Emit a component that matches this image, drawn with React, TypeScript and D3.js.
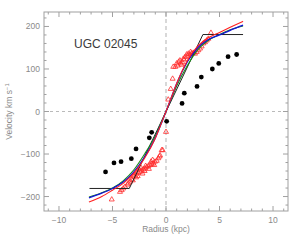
import React from "react";
import * as d3 from "d3";

const dotR = [-5.65, -4.86, -4.2, -3.24, -2.8, -1.56, -1.34, 0.06, 1.5, 1.71, 2.9, 3.3, 4.33, 4.93, 5.8, 6.6];
const dotV = [-142, -121, -118, -111, -88, -62, -49, -23, 19, 43, 59, 81, 100, 113, 129, 134];

const triR = [0.21, 0.44, 0.62, 0.68, 0.87, 1.0, 1.1, 1.19, 1.3, 1.37, 1.45, 1.52, 1.62, 1.68, 1.78, 1.93, 2.0, 2.09, 2.24, 2.3, 2.4, 2.55, 2.71, 2.87, 3.02, 3.18, 3.33, 3.49, 3.64, 3.8, 3.95, 4.2,
  0.0, -0.31, -0.4, -0.56, -0.6, -0.72, -0.87, -1.03, -1.19, -1.34, -1.4, -1.5, -1.65, -1.8, -1.9, -1.96, -2.0, -2.12, -2.27, -2.43, -2.5, -2.59, -2.74, -2.8, -2.9, -3.05, -3.2, -3.36, -3.52, -3.83, -3.99, -4.14, -4.3, -5.07,
  -1.1, -1.6, -2.2, -2.65, -3.1, -3.6, -1.25, -2.35];
const triV = [28, 53, 77, 105, 105, 113, 108, 117, 120, 113, 110, 116, 124, 122, 128, 134, 130, 136, 134, 140, 136, 138, 136, 140, 144, 148, 153, 160, 163, 167, 171, 185,
  -48, -91, -91, -103, -106, -110, -116, -118, -122, -124, -118, -126, -128, -131, -128, -134, -140, -136, -139, -142, -136, -144, -146, -155, -150, -153, -160, -165, -169, -177, -181, -185, -189, -207,
  -126, -135, -146, -152, -162, -172, -114, -132];

const curveR = [-7.2, -6, -5, -4, -3, -2, -1, -0.5, 0, 0.5, 1, 2, 3, 4, 5, 6, 7.2];
const blueV = [-203, -192, -181, -166, -142, -107, -62, -32, 0, 33, 66, 117, 151, 170, 180, 191, 203];
const redV = [-213, -200, -185, -169, -145, -110, -63, -32, 0, 33, 66, 120, 155, 174, 186, 198, 212];
const greenV = [-201, -191, -180, -163, -137, -100, -57, -29, 0, 30, 60, 108, 146, 168, 181, 192, 201];

const modelR = [-7.15, -3.43, 3.45, 7.2];
const modelV = [-181, -181, 181, 181];

const xMajor = [-10, -5, 0, 5, 10];
const yMajor = [-200, -100, 0, 100, 200];

export default function App() {
  const W = 300, H = 240;
  const L = 44, R = 288, T = 12, B = 211;
  const x = d3.scaleLinear().domain([-11.4, 11.4]).range([L, R]);
  const y = d3.scaleLinear().domain([-234, 234]).range([B, T]);
  const xMinor = d3.range(-11, 12, 1);
  const yMinor = d3.range(-220, 221, 20);
  const axisCol = "#a0a0a0";
  const textCol = "#8a8a8a";

  const line = d3.line<[number, number]>().x(d => x(d[0])).y(d => y(d[1])).curve(d3.curveMonotoneX);
  const lin = d3.line<[number, number]>().x(d => x(d[0])).y(d => y(d[1]));
  const pts = (vs: number[]) => curveR.map((r, i) => [r, vs[i]] as [number, number]);
  const tri = d3.symbol().type(d3.symbolTriangle).size(11)();

  return (
    <svg width={W} height={H} style={{ position: "absolute", left: 0, top: 0, fontFamily: "'Liberation Sans', Arial, sans-serif" }}>
      <rect x={0} y={0} width={W} height={H} fill="white" />
      <line x1={x(0)} x2={x(0)} y1={T} y2={B} stroke="#cfcfcf" strokeWidth={1.6} strokeDasharray="4,3" />
      <line x1={L} x2={R} y1={y(0)} y2={y(0)} stroke="#a8a8a8" strokeWidth={0.8} strokeDasharray="3,3" />
      <rect x={L} y={T} width={R - L} height={B - T} fill="none" stroke={axisCol} strokeWidth={1} />
      {xMinor.map(v => {
        const major = xMajor.includes(v);
        const len = major ? 5 : 2.5;
        return (
          <g key={"xt" + v}>
            <line x1={x(v)} x2={x(v)} y1={B} y2={B - len} stroke={axisCol} />
            <line x1={x(v)} x2={x(v)} y1={T} y2={T + len} stroke={axisCol} />
          </g>
        );
      })}
      {yMinor.map(v => {
        const major = yMajor.includes(v);
        const len = major ? 5 : 2.5;
        return (
          <g key={"yt" + v}>
            <line x1={L} x2={L + len} y1={y(v)} y2={y(v)} stroke={axisCol} />
            <line x1={R} x2={R - len} y1={y(v)} y2={y(v)} stroke={axisCol} />
          </g>
        );
      })}
      {xMajor.map(v => (
        <text key={"xl" + v} x={x(v)} y={223} fontSize={8.5} fill={textCol} textAnchor="middle">{v < 0 ? "\u2212" + Math.abs(v) : v}</text>
      ))}
      {yMajor.map(v => (
        <text key={"yl" + v} x={40} y={y(v) + 3} fontSize={8.5} fill={textCol} textAnchor="end">{v < 0 ? "\u2212" + Math.abs(v) : v}</text>
      ))}
      <text x={166} y={232} fontSize={8.5} fill={textCol} textAnchor="middle">Radius (kpc)</text>
      <text transform={`translate(12,${(T + B) / 2}) rotate(-90)`} fontSize={8.5} fill={textCol} textAnchor="middle">
        Velocity km s<tspan dy={-3} fontSize={6}>−1</tspan>
      </text>
      <text x={74} y={48} fontSize={12} fill="#3a3a3a">UGC 02045</text>

      {triR.map((r, i) => (
        <path key={"tr" + i} d={tri!} transform={`translate(${x(r)},${y(triV[i])})`} fill="none" stroke="#ff2a2a" strokeWidth={0.8} />
      ))}
      <path d={lin(modelR.map((r, i) => [r, modelV[i]] as [number, number]))!} fill="none" stroke="#222" strokeWidth={1} />
      <path d={line(pts(greenV))!} fill="none" stroke="#1a8a1a" strokeWidth={1.1} />
      <path d={line(pts(blueV))!} fill="none" stroke="#1414d8" strokeWidth={1.3} />
      <path d={line(pts(redV))!} fill="none" stroke="#ff2020" strokeWidth={1.1} />
      {dotR.map((r, i) => (
        <circle key={"d" + i} cx={x(r)} cy={y(dotV[i])} r={2.4} fill="#000" />
      ))}
    </svg>
  );
}
